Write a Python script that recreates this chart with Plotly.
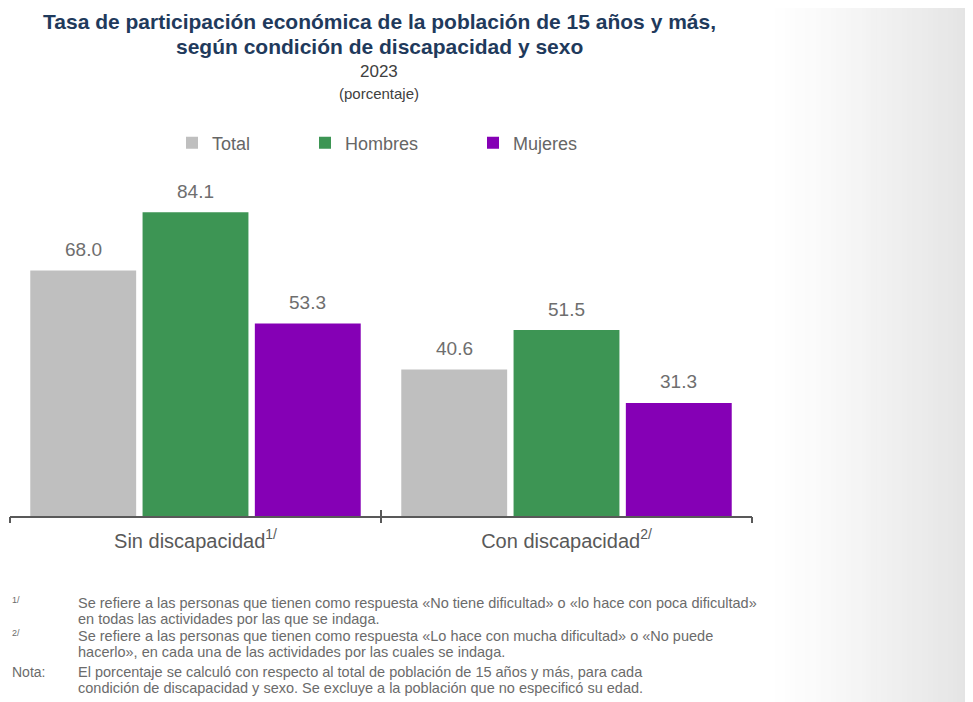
import plotly.graph_objects as go

categories = ["Sin discapacidad", "Con discapacidad"]
cat_sups = ["1/", "2/"]
series_names = ["Total", "Hombres", "Mujeres"]
total = [68.0, 40.6]
hombres = [84.1, 51.5]
mujeres = [53.3, 31.3]
series_values = [total, hombres, mujeres]
colors = ["#bfbfbf", "#3d9554", "#8500b5"]

title_l1 = "Tasa de participación económica de la población de 15 años y más,"
title_l2 = "según condición de discapacidad y sexo"
year = "2023"
unit = "(porcentaje)"
notes = [
    ("1/", "Se refiere a las personas que tienen como respuesta «No tiene dificultad» o «lo hace con poca dificultad»"),
    ("", "en todas las actividades por las que se indaga."),
    ("2/", "Se refiere a las personas que tienen como respuesta «Lo hace con mucha dificultad» o «No puede"),
    ("", "hacerlo», en cada una de las actividades por las cuales se indaga."),
    ("Nota:", "El porcentaje se calculó con respecto al total de población de 15 años y más, para cada"),
    ("", "condición de discapacidad y sexo. Se excluye a la población que no especificó su edad."),
]

# page is rendered with an 8px body margin, so the figure is laid out in page pixels minus 8
OFF = 8
W, H = 973 - OFF, 702 - OFF
ML, MR, MT, MB = 10 - OFF, 973 - 752, 191 - OFF, 702 - 516
PW = W - ML - MR
PH = H - MT - MB
BARGAP = 0.092
FONT = "Liberation Sans, Arial, sans-serif"

def px_x(px):  # page px -> paper x
    return (px - OFF - ML) / PW

def px_y(py):  # page px -> paper y
    return (H - MB - (py - OFF)) / PH

fig = go.Figure()
idx = list(range(len(categories)))
legend_ids = ["legend", "legend2", "legend3"]
legend_x = [172, 305, 473]
for name, vals, col, lg in zip(series_names, series_values, colors, legend_ids):
    fig.add_trace(go.Bar(
        name=name, x=idx, y=vals, marker=dict(color=col, line=dict(width=0)),
        hoverinfo="y+name", legend=lg,
    ))

slot = (1 - BARGAP) / len(series_names)
annotations = []
for k, vals in enumerate(series_values):
    for i, v in enumerate(vals):
        annotations.append(dict(
            x=i + (k - (len(series_names) - 1) / 2) * slot, y=v, xref="x", yref="y",
            text=f"{v:.1f}", showarrow=False, yanchor="middle", yshift=21,
            font=dict(family=FONT, size=19, color="#6e6e6e"),
        ))

annotations += [
    dict(x=px_x(379), y=px_y(OFF + 1), xref="paper", yref="paper", text=f"<b>{title_l1}</b>",
         showarrow=False, xanchor="center", yanchor="top", borderpad=0,
         font=dict(family=FONT, size=21, color="#1f3a5c")),
    dict(x=px_x(379), y=px_y(34), xref="paper", yref="paper", text=f"<b>{title_l2}</b>",
         showarrow=False, xanchor="center", yanchor="top", borderpad=0,
         font=dict(family=FONT, size=21, color="#1f3a5c")),
    dict(x=px_x(379), y=px_y(71), xref="paper", yref="paper", text=year,
         showarrow=False, xanchor="center", yanchor="middle",
         font=dict(family=FONT, size=17, color="#404040")),
    dict(x=px_x(379), y=px_y(94), xref="paper", yref="paper", text=unit,
         showarrow=False, xanchor="center", yanchor="middle",
         font=dict(family=FONT, size=15, color="#404040")),
]

note_y = [603, 619, 636, 652, 672, 688]
for (mark, txt), yy in zip(notes, note_y):
    if mark:
        is_sup = mark != "Nota:"
        annotations.append(dict(
            x=px_x(10), y=px_y(yy - (3 if is_sup else 0)), xref="paper", yref="paper",
            text=mark, showarrow=False, xanchor="left", yanchor="middle",
            font=dict(family=FONT, size=9 if is_sup else 14, color="#6b6b6b")))
    annotations.append(dict(
        x=px_x(76), y=px_y(yy), xref="paper", yref="paper", text=txt,
        showarrow=False, xanchor="left", yanchor="middle",
        font=dict(family=FONT, size=14.5, color="#6b6b6b")))

# right-side soft grey gradient band
shapes = []
n = 40
x0 = 770
for j in range(n):
    a = x0 + (973 - x0) * j / n
    b = x0 + (973 - x0) * (j + 1) / n
    g = int(round(255 - 28 * ((j + 0.5) / n) ** 1.2))
    shapes.append(dict(type="rect", xref="paper", yref="paper",
                       x0=px_x(a), x1=px_x(b) + 0.002, y0=px_y(710), y1=px_y(0),
                       fillcolor=f"rgb({g},{g},{g})", line=dict(width=0), layer="below"))

legend_common = dict(orientation="h", xanchor="left", yanchor="middle", y=px_y(143),
                     font=dict(family=FONT, size=18, color="#666666"),
                     bgcolor="rgba(0,0,0,0)", itemwidth=30)

boundaries = [i - 0.5 for i in range(len(categories) + 1)]
fig.update_layout(
    width=W, height=H,
    margin=dict(l=ML, r=MR, t=MT, b=MB),
    paper_bgcolor="white", plot_bgcolor="rgba(0,0,0,0)",
    barmode="group", bargap=BARGAP, bargroupgap=0.057,
    showlegend=True,
    legend=dict(legend_common, x=px_x(legend_x[0])),
    legend2=dict(legend_common, x=px_x(legend_x[1])),
    legend3=dict(legend_common, x=px_x(legend_x[2])),
    xaxis=dict(
        type="linear", range=[-0.5, len(categories) - 0.5],
        tickmode="array", tickvals=idx,
        ticktext=[f"{c}<sup>{s}</sup>" for c, s in zip(categories, cat_sups)],
        ticks="", showline=True, linecolor="#595959", linewidth=1.5,
        tickfont=dict(family=FONT, size=20, color="#595959"), ticklabelstandoff=6,
        showgrid=False, zeroline=False, fixedrange=True,
    ),
    xaxis2=dict(
        overlaying="x", anchor="y", side="bottom",
        type="linear", range=[-0.5, len(categories) - 0.5],
        tickmode="array", tickvals=boundaries,
        showticklabels=False, ticks="outside", ticklen=6, tickwidth=1.5, tickcolor="#595959",
        showline=False, showgrid=False, zeroline=False,
    ),
    xaxis3=dict(
        overlaying="x", anchor="y", side="bottom",
        type="linear", range=[-0.5, len(categories) - 0.5],
        tickmode="array", tickvals=boundaries,
        showticklabels=False, ticks="inside", ticklen=6, tickwidth=1.5, tickcolor="#595959",
        showline=False, showgrid=False, zeroline=False,
    ),
    yaxis=dict(range=[0, 90], visible=False, fixedrange=True),
    annotations=annotations, shapes=shapes,
)
# empty traces so the tick-only overlay axes get drawn
fig.add_trace(go.Scatter(x=[None], y=[None], xaxis="x2", showlegend=False, hoverinfo="skip"))
fig.add_trace(go.Scatter(x=[None], y=[None], xaxis="x3", showlegend=False, hoverinfo="skip"))

fig.write_html("out.html")
